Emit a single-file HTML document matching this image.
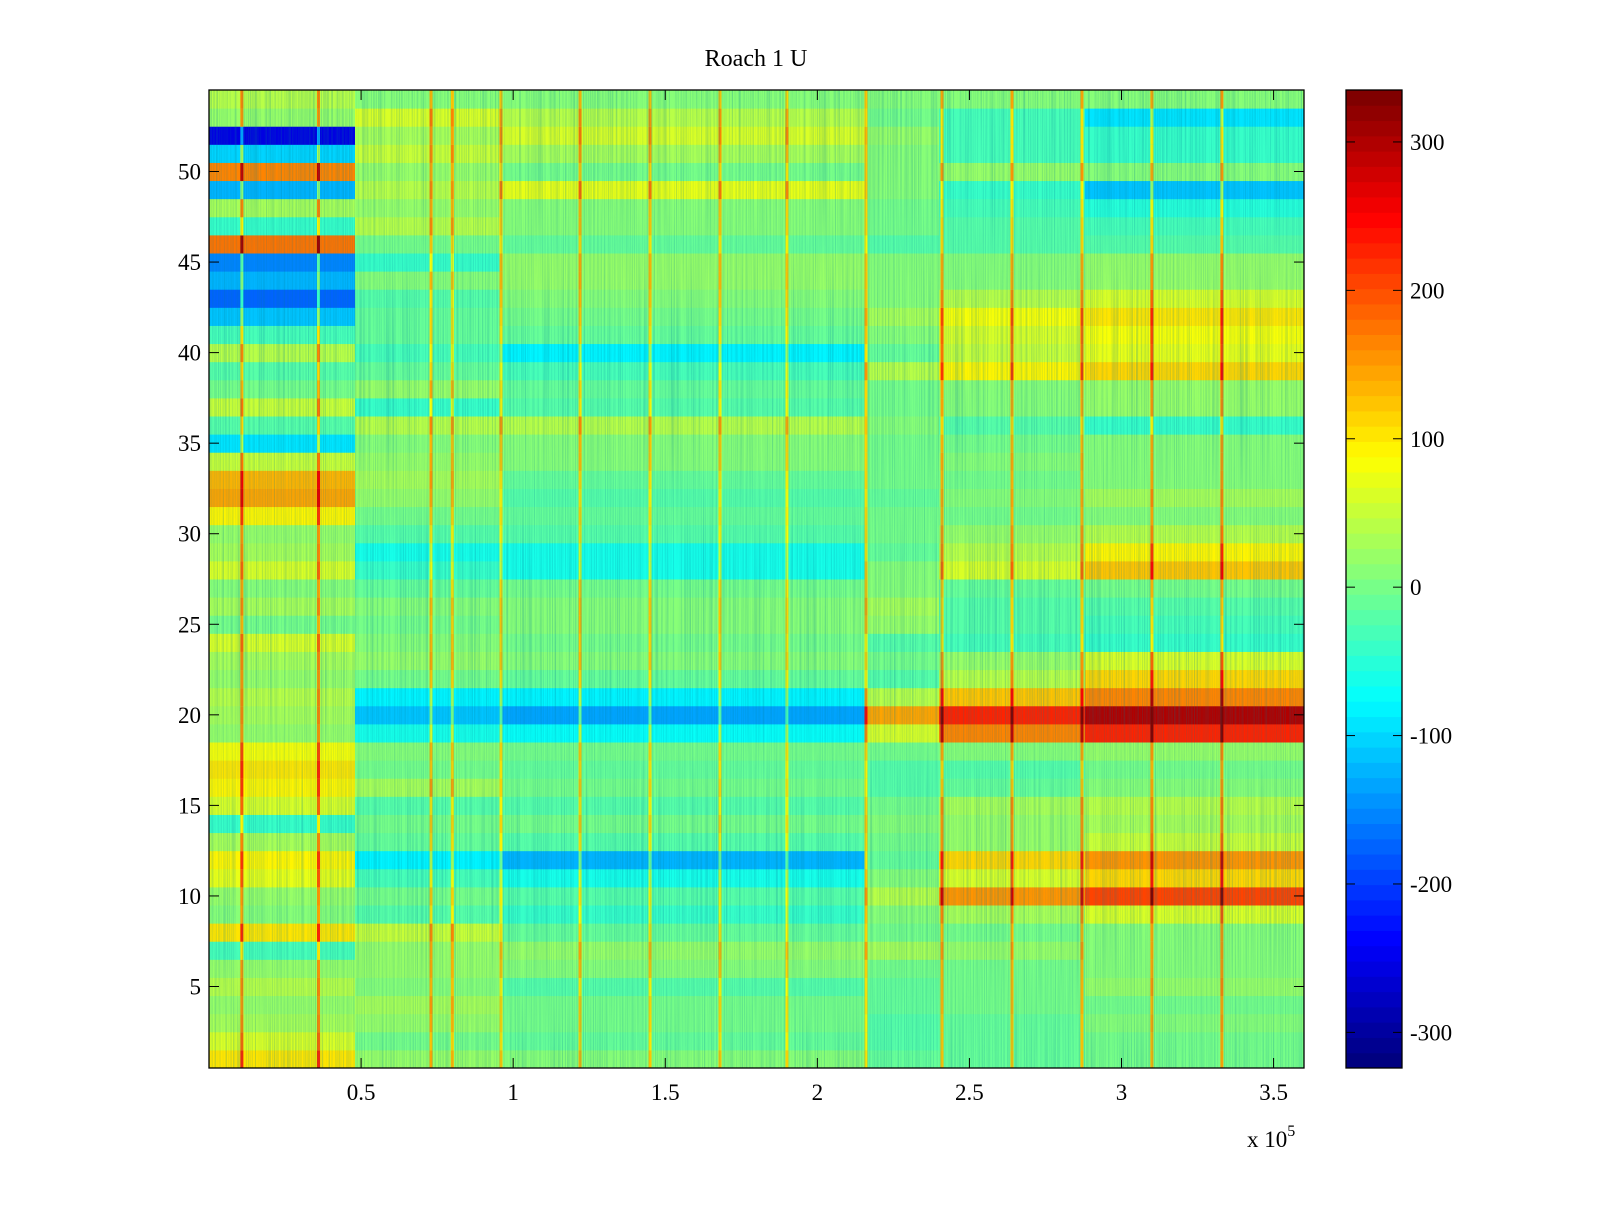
<!DOCTYPE html>
<html><head><meta charset="utf-8"><style>
html,body{margin:0;padding:0;background:#fff;}
svg text{font-family:"Liberation Serif",serif;fill:#000;}
</style></head><body>
<svg id="chart" width="1600" height="1200" xmlns="http://www.w3.org/2000/svg">
<defs>
<filter id="streaks" x="0" y="0" width="100%" height="100%">
<feTurbulence type="fractalNoise" baseFrequency="0.9 0.004" numOctaves="2" seed="3"/>
<feColorMatrix type="matrix" values="0 0 0 0 0  0 0 0 0 0.2  0 0 0 0 0.3  0 0 0 1.4 -0.55"/>
</filter>
<clipPath id="plotclip"><rect x="209" y="90" width="1095" height="978"/></clipPath>
</defs>
<g id="cells" clip-path="url(#plotclip)"></g>
<rect x="209" y="90" width="1095" height="978" filter="url(#streaks)" opacity="0.5"/>
<g id="axes"></g>
<text x="756" y="66" font-size="24" text-anchor="middle">Roach 1 U</text>
<text x="1247" y="1147" font-size="23">x 10<tspan dy="-11" font-size="16">5</tspan></text>
<g id="cbar"></g>
</svg>
<script>
// x segment boundaries (data units)
const segBreaks = [0, 48000, 96000, 216000, 240000, 288000, 360000];
// row values per segment, row 1 first
const row1=[100,20,10,-10,-10,0], row2=[60,0,-10,-20,-10,0], row3=[30,20,0,-20,-10,10],
row4=[20,30,0,-10,0,0], row5=[40,10,-20,-10,0,20], row6=[20,20,10,0,0,10],
row7=[-30,20,20,30,20,10], row8=[100,50,-10,0,0,10], row9=[10,-20,-40,10,30,60],
row10=[20,0,-20,40,150,210], row11=[70,-30,-60,10,60,110], row12=[90,-80,-120,-10,110,150],
row13=[30,-10,-20,0,20,50], row14=[-40,0,0,10,20,30], row15=[60,-20,-20,0,30,40],
row16=[90,30,0,-20,-10,10], row17=[100,0,-10,-20,-20,0], row18=[80,10,0,0,10,20],
row19=[20,-60,-70,60,160,230], row20=[30,-110,-130,140,230,300], row21=[40,-80,-80,40,120,170],
row22=[20,0,-10,-20,40,110], row23=[30,20,10,0,20,60], row24=[60,10,0,-20,-30,-40],
row25=[0,0,10,20,-20,-30], row26=[30,10,10,30,-20,-20], row27=[10,-10,0,10,-10,0],
row28=[60,-40,-60,10,60,120], row29=[30,-60,-60,-10,40,90], row30=[20,-20,-20,0,20,40],
row31=[90,0,-10,0,0,10], row32=[140,20,-20,-10,10,30], row33=[130,30,-10,0,0,10],
row34=[50,20,10,0,10,10], row35=[-90,10,10,0,0,10], row36=[-20,40,40,10,-20,-40],
row37=[50,-40,-20,0,10,20], row38=[0,20,-10,0,10,20], row39=[-20,-10,-30,40,90,110],
row40=[40,-30,-80,-10,50,70], row41=[-30,-10,-10,10,60,80], row42=[-110,-10,0,30,80,100],
row43=[-170,-20,10,10,40,60], row44=[-120,10,20,10,10,20], row45=[-150,-40,20,10,10,20],
row46=[180,0,-10,-20,-20,-20], row47=[-40,40,10,0,-20,-30], row48=[30,20,10,0,-30,-50],
row49=[-120,40,70,10,-40,-110], row50=[160,20,0,10,20,10], row51=[-100,50,30,10,-30,-40],
row52=[-260,30,60,20,-30,-40], row53=[20,60,40,0,-30,-90], row54=[40,10,10,10,10,10];
const rows=[row1,row2,row3,row4,row5,row6,row7,row8,row9,row10,row11,row12,row13,row14,row15,row16,row17,row18,row19,row20,row21,row22,row23,row24,row25,row26,row27,row28,row29,row30,row31,row32,row33,row34,row35,row36,row37,row38,row39,row40,row41,row42,row43,row44,row45,row46,row47,row48,row49,row50,row51,row52,row53,row54];
// vertical spike events (data units) and boost
const spikeX=[10800,36000,73000,80000,96000,122000,145000,168000,190000,216000,241000,264000,287000,310000,333000];
const spikeBoost=[130,130,120,110,110,120,110,110,100,110,130,130,130,130,140];
const xTicks=[0.5,1,1.5,2,2.5,3,3.5];
const yTicks=[5,10,15,20,25,30,35,40,45,50];
const cTicks=[-300,-200,-100,0,100,200,300];

const L=209,R=1304,T=90,B=1068, X0=0, X1=360000, Y0=0.5, Y1=54.5, CMIN=-324, CMAX=335;
const xs=v=>L+(v-X0)/(X1-X0)*(R-L);
const ys=v=>B-(v-Y0)/(Y1-Y0)*(B-T);
function jet(v){
  let t=(v-CMIN)/(CMAX-CMIN); t=Math.max(0,Math.min(1,t));
  t=Math.min(63,Math.floor(t*64))/63;
  const c=x=>Math.round(255*Math.max(0,Math.min(1,x)));
  return `rgb(${c(1.5-Math.abs(4*t-3))},${c(1.5-Math.abs(4*t-2))},${c(1.5-Math.abs(4*t-1))})`;
}
const NS='http://www.w3.org/2000/svg';
function mk(tag,attrs,parent){const e=document.createElementNS(NS,tag);for(const k in attrs)e.setAttribute(k,attrs[k]);parent.appendChild(e);return e;}
const cells=document.getElementById('cells');
rows.forEach((vals,ri)=>{
  const r=ri+1, yt=ys(r+0.5), yb=ys(r-0.5);
  vals.forEach((v,si)=>{
    const x0=xs(segBreaks[si]), x1=xs(segBreaks[si+1]);
    const e=mk('rect',{x:x0,y:yt,width:x1-x0+0.5,height:yb-yt+0.5,fill:jet(v)},cells);
    
    
  });
  spikeX.forEach((sx,k)=>{
    let si=0; while(si<segBreaks.length-2 && sx>=segBreaks[si+1]) si++;
    const e=mk('rect',{x:xs(sx)-1.5,y:yt,width:3,height:yb-yt+0.5,fill:jet(vals[si]+spikeBoost[k])},cells);
    
    
  });
});
const ax=document.getElementById('axes');
const frame=mk('rect',{x:L,y:T,width:R-L,height:B-T,fill:'none',stroke:'#000','stroke-width':1.3},ax);


xTicks.forEach(t=>{
  const x=xs(t*1e5);
  mk('line',{x1:x,x2:x,y1:B,y2:B-10,stroke:'#000'},ax);
  mk('line',{x1:x,x2:x,y1:T,y2:T+10,stroke:'#000'},ax);
  const tx=mk('text',{x:x,y:B+32,'font-size':23,'text-anchor':'middle'},ax);
  tx.textContent=String(t);
  
  
});
yTicks.forEach(t=>{
  const y=ys(t);
  mk('line',{x1:L,x2:L+10,y1:y,y2:y,stroke:'#000'},ax);
  mk('line',{x1:R,x2:R-10,y1:y,y2:y,stroke:'#000'},ax);
  const tx=mk('text',{x:L-8,y:y+8,'font-size':23,'text-anchor':'end'},ax);
  tx.textContent=String(t);
  
  
});
const cb=document.getElementById('cbar');
const CL=1346,CR=1402;
const cy=v=>B-(v-CMIN)/(CMAX-CMIN)*(B-T);
for(let i=0;i<64;i++){
  const v0=CMIN+(CMAX-CMIN)*i/64, v1=CMIN+(CMAX-CMIN)*(i+1)/64;
  const e=mk('rect',{x:CL,y:cy(v1),width:CR-CL,height:cy(v0)-cy(v1)+0.5,fill:jet((v0+v1)/2)},cb);
  
  
}
mk('rect',{x:CL,y:T,width:CR-CL,height:B-T,fill:'none',stroke:'#000','stroke-width':1.3},cb);
cTicks.forEach(t=>{
  const y=cy(t);
  mk('line',{x1:CL,x2:CL+9,y1:y,y2:y,stroke:'#000'},cb);
  mk('line',{x1:CR,x2:CR-9,y1:y,y2:y,stroke:'#000'},cb);
  const tx=mk('text',{x:CR+8,y:y+8,'font-size':23},cb);
  tx.textContent=String(t);
  
  
});
</script>
</body></html>
